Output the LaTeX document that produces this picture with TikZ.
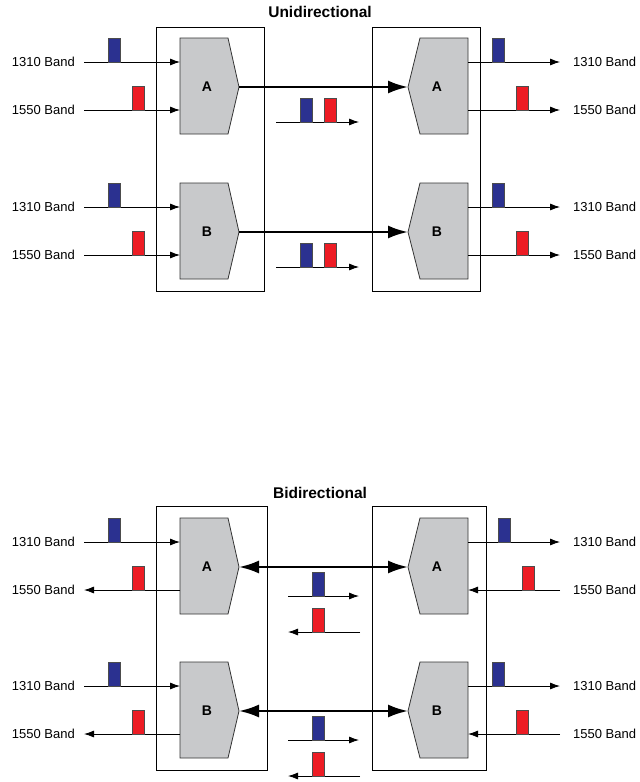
\documentclass[tikz,border=0pt]{standalone}
\usepackage{fontspec}
\setmainfont{Liberation Sans}
\usetikzlibrary{arrows.meta, positioning}
\definecolor{pulse-blue}{RGB}{43,49,144}
\definecolor{pulse-red}{RGB}{237,28,36}
\definecolor{mux-grey}{RGB}{200,201,203}

\tikzset{
	muxbody/.style={draw=black!80, fill=mux-grey, line width=0.8pt},
	muxlabel/.style={font=\fontsize{14}{16}\bfseries\selectfont},
	band/.style={font=\fontsize{13}{15}\selectfont, inner xsep=9pt, inner ysep=1pt},
	bandr/.style={band, inner xsep=13pt},
	fibre/.style={line width=0.8pt, -{Latex[length=10pt,width=7pt]}},
	trunk/.style={line width=2.4pt},
	bighead/.tip={Latex[length=20pt,width=13pt]},
	pulse/.style={draw=black!70, line width=0.6pt, fill=#1},
	heading/.style={font=\fontsize{15.5}{18}\bfseries\selectfont}
}

% mux pointing right: name, top y, letter
\newcommand{\muxL}[3]{
	\draw[muxbody] (180,#2) -- (228,#2) -- (239,{#2+49}) -- (228,{#2+96}) -- (180,{#2+96}) -- cycle;
	\node[muxlabel] (#1) at (207,{#2+49}) {#3};
	\coordinate (#1-p1) at (180,{#2+24});
	\coordinate (#1-p2) at (180,{#2+72});
	\coordinate (#1-tip) at (239,{#2+49});
}
% mux pointing left
\newcommand{\muxR}[3]{
	\draw[muxbody] (420,#2) -- (468,#2) -- (468,{#2+96}) -- (420,{#2+96}) -- (408,{#2+49}) -- cycle;
	\node[muxlabel] (#1) at (437,{#2+49}) {#3};
	\coordinate (#1-p1) at (468,{#2+24});
	\coordinate (#1-p2) at (468,{#2+72});
	\coordinate (#1-tip) at (408,{#2+49});
}
\newcommand{\pulse}[3]{\draw[pulse=#1] (#2,#3) rectangle ++(12,-24);}

\begin{document}
\begin{tikzpicture}[x=1pt, y=-1pt]
	\useasboundingbox (0,0) rectangle (640,782);

	% unidirectional
	\node[heading] (uni) at (320,12) {Unidirectional};
	\draw[line width=0.9pt] (156,27) rectangle (264,291);
	\draw[line width=0.9pt] (372,27) rectangle (480,291);
	\muxL{ua}{38}{A}
	\muxL{ub}{183}{B}
	\muxR{uc}{38}{A}
	\muxR{ud}{183}{B}

	\node[band, anchor=east] (ua1) at (84,62) {1310 Band};
	\node[band, anchor=east] (ua2) at (84,110) {1550 Band};
	\node[band, anchor=east] (ub1) at (84,207) {1310 Band};
	\node[band, anchor=east] (ub2) at (84,255) {1550 Band};
	\node[bandr, anchor=west] (uc1) at (560,62) {1310 Band};
	\node[bandr, anchor=west] (uc2) at (560,110) {1550 Band};
	\node[bandr, anchor=west] (ud1) at (560,207) {1310 Band};
	\node[bandr, anchor=west] (ud2) at (560,255) {1550 Band};

	\draw[fibre] (ua1) -- (ua-p1);
	\draw[fibre] (ua2) -- (ua-p2);
	\draw[fibre] (ub1) -- (ub-p1);
	\draw[fibre] (ub2) -- (ub-p2);
	\draw[fibre] (uc-p1) -- (uc1);
	\draw[fibre] (uc-p2) -- (uc2);
	\draw[fibre] (ud-p1) -- (ud1);
	\draw[fibre] (ud-p2) -- (ud2);
	\draw[trunk, -bighead] (ua-tip) -- (uc-tip);
	\draw[trunk, -bighead] (ub-tip) -- (ud-tip);

	\pulse{pulse-blue}{108}{62} \pulse{pulse-red}{132}{110}
	\pulse{pulse-blue}{108}{207} \pulse{pulse-red}{132}{255}
	\pulse{pulse-blue}{492}{62} \pulse{pulse-red}{516}{110}
	\pulse{pulse-blue}{492}{207} \pulse{pulse-red}{516}{255}

	\draw[fibre] (276,122) -- (359,122);
	\pulse{pulse-blue}{300}{122} \pulse{pulse-red}{324}{122}
	\draw[fibre] (276,267) -- (359,267);
	\pulse{pulse-blue}{300}{267} \pulse{pulse-red}{324}{267}

	% bidirectional
	\node[heading] (bi) at (320,493) {Bidirectional};
	\draw[line width=0.9pt] (156,506) rectangle (267,770);
	\draw[line width=0.9pt] (372,506) rectangle (486,770);
	\muxL{ba}{518}{A}
	\muxL{bb}{662}{B}
	\muxR{bc}{518}{A}
	\muxR{bd}{662}{B}

	\node[band, anchor=east] (ba1) at (84,542) {1310 Band};
	\node[band, anchor=east] (ba2) at (84,590) {1550 Band};
	\node[band, anchor=east] (bb1) at (84,686) {1310 Band};
	\node[band, anchor=east] (bb2) at (84,734) {1550 Band};
	\node[bandr, anchor=west] (bc1) at (560,542) {1310 Band};
	\node[bandr, anchor=west] (bc2) at (560,590) {1550 Band};
	\node[bandr, anchor=west] (bd1) at (560,686) {1310 Band};
	\node[bandr, anchor=west] (bd2) at (560,734) {1550 Band};

	\draw[fibre] (ba1) -- (ba-p1);
	\draw[fibre] (ba-p2) -- (ba2);
	\draw[fibre] (bb1) -- (bb-p1);
	\draw[fibre] (bb-p2) -- (bb2);
	\draw[fibre] (bc-p1) -- (bc1);
	\draw[fibre] (bc2) -- (bc-p2);
	\draw[fibre] (bd-p1) -- (bd1);
	\draw[fibre] (bd2) -- (bd-p2);
	\draw[trunk, bighead-bighead] (ba-tip) -- (bc-tip);
	\draw[trunk, bighead-bighead] (bb-tip) -- (bd-tip);

	\pulse{pulse-blue}{108}{542} \pulse{pulse-red}{132}{590}
	\pulse{pulse-blue}{108}{686} \pulse{pulse-red}{132}{734}
	\pulse{pulse-blue}{498}{542} \pulse{pulse-red}{522}{590}
	\pulse{pulse-blue}{492}{686} \pulse{pulse-red}{516}{734}

	\draw[fibre] (288,596) -- (359,596);
	\pulse{pulse-blue}{312}{596}
	\draw[fibre] (360,632) -- (288,632);
	\pulse{pulse-red}{312}{632}
	\draw[fibre] (288,740) -- (359,740);
	\pulse{pulse-blue}{312}{740}
	\draw[fibre] (360,776) -- (288,776);
	\pulse{pulse-red}{312}{776}
\end{tikzpicture}
\end{document}
